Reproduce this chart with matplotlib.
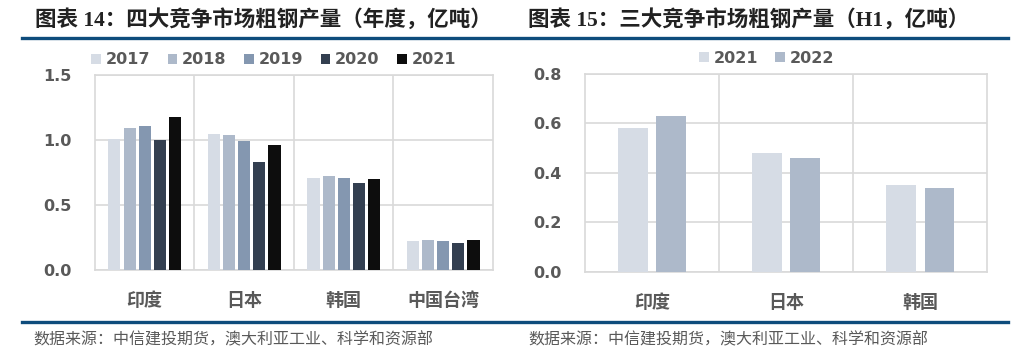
#!/usr/bin/env python3

"""
Crude steel output of the main competing markets (two bar charts side by side).
"""

import matplotlib
matplotlib.use("Agg")
import matplotlib.pyplot as plt
from matplotlib.lines import Line2D
import numpy as np

plt.rcParams['font.family'] = ['Noto Sans CJK SC', 'DejaVu Sans']

# Left chart: yearly output (100 million tonnes)
left_categories = ['印度', '日本', '韩国', '中国台湾']
left_years = ['2017', '2018', '2019', '2020', '2021']
india_yearly = [1.01, 1.09, 1.11, 1.00, 1.18]
japan_yearly = [1.05, 1.04, 0.99, 0.83, 0.96]
korea_yearly = [0.71, 0.72, 0.71, 0.67, 0.70]
taiwan_yearly = [0.22, 0.23, 0.22, 0.21, 0.23]

# Right chart: first half output (100 million tonnes)
right_categories = ['印度', '日本', '韩国']
right_years = ['2021', '2022']
h1_2021 = [0.58, 0.48, 0.35]
h1_2022 = [0.63, 0.46, 0.34]

left_title = '图表 14：四大竞争市场粗钢产量（年度，亿吨）'
right_title = '图表 15：三大竞争市场粗钢产量（H1，亿吨）'
source_text = '数据来源：中信建投期货，澳大利亚工业、科学和资源部'

COLORS = ['#D6DCE5', '#ADB9CA', '#8497B0', '#333F50', '#0D0D0D']
GRID = '#D9D9D9'
TEXT = '#595959'
BLUE = '#0E4C7C'
NUM_FONT = ['DejaVu Sans', 'Noto Sans CJK SC']
CAT_FONT = ['Noto Sans CJK SC', 'DejaVu Sans']


def style_axis(ax, categories, ymax, ystep):
    n_cat = len(categories)
    yt = np.arange(0, ymax + 1e-9, ystep)
    ax.set_xlim(-0.5, n_cat - 0.5)
    ax.set_ylim(0, ymax)
    ax.set_yticks(yt)
    ax.set_yticklabels(['{:.1f}'.format(v) for v in yt], family=NUM_FONT,
                       fontweight='bold', fontsize=11.5, color=TEXT)
    ax.set_xticks(np.arange(n_cat))
    ax.set_xticklabels(categories, family=CAT_FONT, fontweight='bold',
                       fontsize=13, color=TEXT)
    ax.set_xticks(np.arange(n_cat - 1) + 0.5, minor=True)
    ax.grid(True, axis='y', color=GRID, linewidth=1.2)
    ax.grid(True, axis='x', which='minor', color=GRID, linewidth=1.2)
    ax.set_axisbelow(True)
    for sp in ax.spines.values():
        sp.set_color(GRID)
        sp.set_linewidth(1.2)
    ax.tick_params(axis='both', which='both', length=0)
    ax.tick_params(axis='y', pad=17)
    ax.tick_params(axis='x', pad=15)


def add_legend(ax, center, ncol):
    leg = ax.figure.legend(*ax.get_legend_handles_labels(), loc='center',
                           bbox_to_anchor=center, ncol=ncol, frameon=False,
                           handlelength=0.6, handleheight=0.6,
                           handletextpad=0.3, columnspacing=1.1,
                           prop={'family': NUM_FONT, 'size': 11.5, 'weight': 'bold'})
    for t in leg.get_texts():
        t.set_color(TEXT)
    return leg


fig = plt.figure(figsize=(10.29, 3.61), dpi=100)

# ---- left chart ----
ax1 = fig.add_axes([0.0923, 0.2521, 0.3868, 0.5401])
left_data = np.array([india_yearly, japan_yearly, korea_yearly, taiwan_yearly])
x1 = np.arange(len(left_categories))
step1 = 0.152
width1 = 0.121
for i, year in enumerate(left_years):
    offset = (i - (len(left_years) - 1) / 2) * step1
    ax1.bar(x1 + offset, left_data[:, i], width1, color=COLORS[i], label=year, zorder=3)
style_axis(ax1, left_categories, 1.5, 0.5)
add_legend(ax1, (0.266, 0.834), 5)

# ---- right chart ----
ax2 = fig.add_axes([0.5685, 0.2474, 0.3907, 0.5476])
right_data = np.array([h1_2021, h1_2022]).T
x2 = np.arange(len(right_categories))
step2 = 0.284
width2 = 0.217
for i, year in enumerate(right_years):
    offset = (i - (len(right_years) - 1) / 2) * step2
    ax2.bar(x2 + offset, right_data[:, i], width2, color=COLORS[i], label=year, zorder=3)
style_axis(ax2, right_categories, 0.8, 0.2)
add_legend(ax2, (0.745, 0.839), 2)

# ---- titles, rules and source lines ----
title_font = ['Liberation Serif', 'Noto Sans CJK SC']
fig.text(35 / 1029, 1 - 20 / 361, left_title, family=title_font, fontsize=15.5,
         fontweight='bold', color='#222222', va='center', ha='left')
fig.text(528 / 1029, 1 - 20 / 361, right_title, family=title_font, fontsize=15.5,
         fontweight='bold', color='#222222', va='center', ha='left')

for y_px in (38, 322):
    y = 1 - y_px / 361
    fig.add_artist(Line2D([22 / 1029, 1008 / 1029], [y, y], color=BLUE, linewidth=2.4))

fig.text(33 / 1029, 1 - 340 / 361, source_text, fontsize=11.5, style='italic',
         color=TEXT, va='center', ha='left')
fig.text(528 / 1029, 1 - 340 / 361, source_text, fontsize=11.5, style='italic',
         color=TEXT, va='center', ha='left')

fig.savefig('out.png', dpi=100)
